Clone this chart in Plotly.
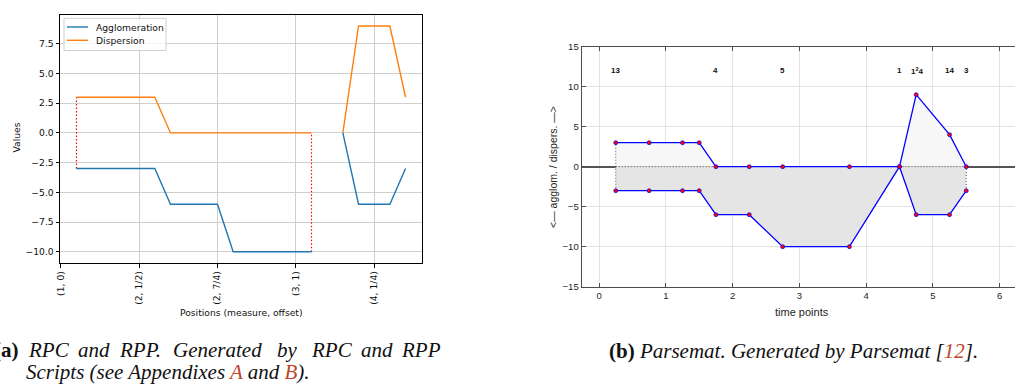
import plotly.graph_objects as go

W, H = 1015, 385

# ---------------- Data: panel (a) RPC / RPP ----------------
pos_x = [0.2, 0.4, 0.6, 0.8, 1.0, 1.2, 1.4, 1.6, 1.8, 2.0, 2.2, 2.4, 2.6, 2.8, 3.0, 3.2,
         3.4, 3.6, 3.8, 4.0, 4.2, 4.4]
agglomeration = [-3, -3, -3, -3, -3, -3, -6, -6, -6, -6, -10, -10, -10, -10, -10, -10,
                 None, 0, -6, -6, -6, -3]
dispersion = [3, 3, 3, 3, 3, 3, 0, 0, 0, 0, 0, 0, 0, 0, 0, 0,
              None, 0, 9, 9, 9, 3]
pos_tickvals = [0, 1, 2, 3, 4]
pos_ticktext = ["(1, 0)", "(2, 1/2)", "(2, 7/4)", "(3, 1)", "(4, 1/4)"]
series_names = ["Agglomeration", "Dispersion"]
series_colors = ["#1f77b4", "#ff7f0e"]

# ---------------- Data: panel (b) Parsemat ----------------
time_points = [0.25, 0.75, 1.25, 1.5, 1.75, 2.25, 2.75, 3.75, 4.5, 4.75, 5.25, 5.5]
dispers = [3, 3, 3, 3, 0, 0, 0, 0, 0, 9, 4, 0]
agglom = [-3, -3, -3, -3, -6, -6, -10, -10, 0, -6, -6, -3]
label_x = [0.25, 1.75, 2.75, 4.5, 4.77, 5.25, 5.5]
label_text = ["13", "4", "5", "1", "1<sup>2</sup>4", "14", "3"]
label_y = 12


def px(x):
    return x / W


def py(y):
    return 1 - y / H


fig = go.Figure()

# ---- panel (a) traces ----
seg_end = pos_x.index(3.4) - 1
fig.add_trace(go.Scatter(
    x=[pos_x[0], pos_x[0], None, pos_x[seg_end], pos_x[seg_end]],
    y=[agglomeration[0], dispersion[0], None, agglomeration[seg_end], dispersion[seg_end]],
    mode="lines", line=dict(color="red", width=1.2, dash="1.5px,2px"),
    showlegend=False, hoverinfo="skip", xaxis="x", yaxis="y"))
for name, vals, col in zip(series_names, [agglomeration, dispersion], series_colors):
    fig.add_trace(go.Scatter(x=pos_x, y=vals, mode="lines", name=name,
                             line=dict(color=col, width=1.4), connectgaps=False,
                             showlegend=False, xaxis="x", yaxis="y"))

# ---- panel (b) traces ----
fig.add_trace(go.Scatter(x=time_points, y=dispers, mode="lines", fill="tozeroy",
                         fillcolor="#f7f7f7", line=dict(width=0), showlegend=False,
                         hoverinfo="skip", xaxis="x2", yaxis="y2"))
fig.add_trace(go.Scatter(x=time_points, y=agglom, mode="lines", fill="tozeroy",
                         fillcolor="#e5e5e5", line=dict(width=0), showlegend=False,
                         hoverinfo="skip", xaxis="x2", yaxis="y2"))
i0 = dispers.index(0)
i1 = time_points.index(4.5)
fig.add_trace(go.Scatter(
    x=[time_points[0], time_points[0], None, time_points[0], time_points[i0], None,
       time_points[i1], time_points[-1], time_points[-1]],
    y=[agglom[0], dispers[0], None, 0, 0, None, 0, 0, agglom[-1]],
    mode="lines", line=dict(color="#555555", width=1, dash="1px,2px"),
    showlegend=False, hoverinfo="skip", xaxis="x2", yaxis="y2"))
for series in (dispers, agglom):
    fig.add_trace(go.Scatter(x=time_points, y=series, mode="lines+markers",
                             line=dict(color="#0000ff", width=1.3),
                             marker=dict(color="#ff0000", size=4,
                                         line=dict(color="#0000ff", width=0.7)),
                             showlegend=False, xaxis="x2", yaxis="y2"))

annotations = []
for lx, lt in zip(label_x, label_text):
    annotations.append(dict(x=lx, y=label_y, xref="x2", yref="y2", text="<b>%s</b>" % lt,
                            showarrow=False,
                            font=dict(family="Liberation Sans", size=8, color="#111"),
                            xanchor="center", yanchor="middle"))

# custom legend for panel (a)
shapes = [dict(type="rect", xref="paper", yref="paper",
               x0=px(64), x1=px(166), y0=py(50.5), y1=py(18.3),
               line=dict(color="#d0d0d0", width=1), fillcolor="rgba(255,255,255,0.8)",
               layer="above")]
for k, (name, col) in enumerate(zip(series_names, series_colors)):
    yy = 27 + 13.3 * k
    shapes.append(dict(type="line", xref="paper", yref="paper",
                       x0=px(67), x1=px(88), y0=py(yy), y1=py(yy),
                       line=dict(color=col, width=1.4), layer="above"))
    annotations.append(dict(x=px(94), y=py(yy), xref="paper", yref="paper", text=name,
                            showarrow=False, xanchor="left", yanchor="middle",
                            font=dict(family="DejaVu Sans", size=9.2, color="#111")))

# axis titles
annotations += [
    dict(x=px(241), y=py(312), xref="paper", yref="paper", text="Positions (measure, offset)",
         showarrow=False, xanchor="center", yanchor="middle",
         font=dict(family="DejaVu Sans", size=9.2, color="#111")),
    dict(x=px(15.5), y=py(138), xref="paper", yref="paper", text="Values", textangle=-90,
         showarrow=False, xanchor="center", yanchor="middle",
         font=dict(family="DejaVu Sans", size=9.2, color="#111")),
    dict(x=px(802), y=py(311.5), xref="paper", yref="paper", text="time points",
         showarrow=False, xanchor="center", yanchor="middle",
         font=dict(family="Liberation Sans", size=11, color="#262626")),
    dict(x=px(553), y=py(167), xref="paper", yref="paper",
         text="<— agglom. / dispers. —>", textangle=-90,
         showarrow=False, xanchor="center", yanchor="middle",
         font=dict(family="Liberation Sans", size=10.5, color="#262626")),
]

# captions
cap_font = dict(family="Liberation Serif", size=21, color="#111")
ref_col = "#c0442a"
words = [("<b>(a)</b>", -7), ("<i>RPC</i>", 27), ("<i>and</i>", 77), ("<i>RPP.</i>", 118),
         ("<i>Generated</i>", 172), ("<i>by</i>", 276), ("<i>RPC</i>", 310),
         ("<i>and</i>", 360), ("<i>RPP</i>", 400)]
for t, x0 in words:
    annotations.append(dict(x=px(x0), y=py(350), xref="paper", yref="paper", text=t,
                            showarrow=False, xanchor="left", yanchor="middle", font=cap_font,
                            borderpad=0))
annotations.append(dict(
    x=px(25), y=py(371.5), xref="paper", yref="paper",
    text=("<i>Scripts (see Appendixes <span style='color:%s'>A</span> and "
          "<span style='color:%s'>B</span>).</i>") % (ref_col, ref_col),
    showarrow=False, xanchor="left", yanchor="middle", font=cap_font, borderpad=0))
annotations.append(dict(
    x=px(793), y=py(351), xref="paper", yref="paper",
    text=("<b>(b)</b> <i>Parsemat. Generated by Parsemat [<span style='color:%s'>12</span>].</i>")
    % ref_col,
    showarrow=False, xanchor="center", yanchor="middle", font=cap_font, borderpad=0))

fig.update_layout(
    template="none",
    width=W, height=H, margin=dict(l=0, r=0, t=0, b=0, pad=0, autoexpand=False),
    paper_bgcolor="white", plot_bgcolor="white",
    font=dict(family="DejaVu Sans", size=10, color="#111"),
    showlegend=False,
    xaxis=dict(domain=[px(60), px(422)], range=[-0.01, 4.61], anchor="y", automargin=False,
               tickvals=pos_tickvals, ticktext=pos_ticktext, tickangle=-90,
               showgrid=True, gridcolor="#cfcfcf", gridwidth=1, zeroline=False,
               showline=True, linecolor="black", linewidth=1, mirror=True,
               ticks="outside", ticklen=3.5, tickcolor="black",
               tickfont=dict(family="DejaVu Sans", size=9.2, color="#111")),
    yaxis=dict(domain=[py(263), py(14.7)], range=[-10.95, 9.95], anchor="x", automargin=False,
               tickvals=[-10, -7.5, -5, -2.5, 0, 2.5, 5, 7.5],
               ticktext=["−10.0", "−7.5", "−5.0", "−2.5", "0.0", "2.5", "5.0", "7.5"],
               showgrid=True, gridcolor="#cfcfcf", gridwidth=1, zeroline=False,
               showline=True, linecolor="black", linewidth=1, mirror=True,
               ticks="outside", ticklen=3.5, tickcolor="black",
               tickfont=dict(family="DejaVu Sans", size=9.2, color="#111")),
    xaxis2=dict(domain=[px(581.7), 1.0], range=[-0.26, 6.23], anchor="y2", automargin=False,
                tickvals=[0, 1, 2, 3, 4, 5, 6],
                showgrid=True, gridcolor="#e3e3e3", gridwidth=1, zeroline=False,
                showline=True, linecolor="#4d4d4d", linewidth=1.2, mirror="ticks",
                ticks="inside", ticklen=4, tickcolor="#4d4d4d",
                tickfont=dict(family="Liberation Sans", size=9.5, color="#262626")),
    yaxis2=dict(domain=[py(286.7), py(46.7)], range=[-15, 15], anchor="x2", automargin=False,
                tickvals=[-15, -10, -5, 0, 5, 10, 15],
                showgrid=True, gridcolor="#e3e3e3", gridwidth=1,
                zeroline=True, zerolinecolor="#555555", zerolinewidth=1.5,
                showline=True, linecolor="#4d4d4d", linewidth=1.2,
                ticks="inside", ticklen=4, tickcolor="#4d4d4d",
                tickfont=dict(family="Liberation Sans", size=9.5, color="#262626")),
    annotations=annotations,
    shapes=shapes,
)

fig.write_html("out.html")
